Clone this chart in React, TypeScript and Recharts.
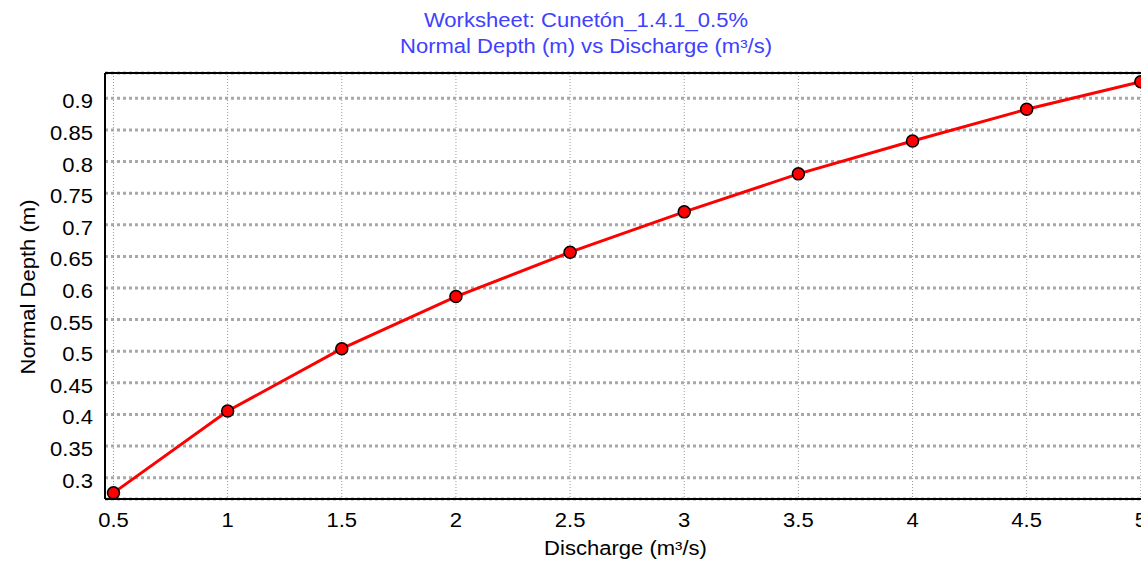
import React from "react";
import {
  LineChart,
  Line,
  XAxis,
  YAxis,
  CartesianGrid,
  ReferenceLine,
  Label,
} from "recharts";

// Rating curve: normal depth against discharge
const discharge = [0.5, 1, 1.5, 2, 2.5, 3, 3.5, 4, 4.5, 5];
const normalDepth = [0.276, 0.4055, 0.504, 0.5865, 0.6566, 0.7204, 0.7805, 0.8325, 0.8826, 0.9263];

const xTicks = [0.5, 1, 1.5, 2, 2.5, 3, 3.5, 4, 4.5, 5];
const yTicks = [0.3, 0.35, 0.4, 0.45, 0.5, 0.55, 0.6, 0.65, 0.7, 0.75, 0.8, 0.85, 0.9];

const titleLines = ["Worksheet: Cunetón_1.4.1_0.5%", "Normal Depth (m) vs Discharge (m³/s)"];
const xTitle = "Discharge (m³/s)";
const yTitle = "Normal Depth (m)";

const data = discharge.map((q, i) => ({ q, depth: normalDepth[i] }));

const FONT = "'Liberation Sans', Arial, sans-serif";
const FS = 19.5;
const SX = 1.13;

const XTick = (props: any) => {
  const { x, y, payload } = props;
  return (
    <g transform={`translate(${x},${y + 28})`}>
      <text transform={`scale(${SX},1)`} textAnchor="middle" fontFamily={FONT} fontSize={FS} fill="#000">
        {String(payload.value)}
      </text>
    </g>
  );
};

const YTick = (props: any) => {
  const { x, y, payload } = props;
  return (
    <g transform={`translate(${x - 12},${y + 10})`}>
      <text transform={`scale(${SX},1)`} textAnchor="end" fontFamily={FONT} fontSize={FS} fill="#000">
        {String(payload.value)}
      </text>
    </g>
  );
};

const XTitle = (props: any) => {
  const vb = props.viewBox || { x: 0, y: 0, width: 0 };
  return (
    <g transform={`translate(${vb.x + 520.5},${vb.y + 56})`}>
      <text transform={`scale(${SX},1)`} textAnchor="middle" fontFamily={FONT} fontSize={FS} fill="#000">
        {xTitle}
      </text>
    </g>
  );
};

const YTitle = (props: any) => {
  const vb = props.viewBox || { x: 0, y: 0, height: 0 };
  return (
    <g transform={`translate(35,${vb.y + vb.height / 2 + 1})`}>
      <text transform={`rotate(-90) scale(${SX},1)`} textAnchor="middle" fontFamily={FONT} fontSize={FS} fill="#000">
        {yTitle}
      </text>
    </g>
  );
};

export default function App() {
  return (
    <div
      style={{
        position: "absolute",
        left: 0,
        top: 0,
        width: 1141,
        height: 563,
        overflow: "hidden",
        background: "#fff",
      }}
    >
      <svg width={1141} height={64} style={{ position: "absolute", left: 0, top: 0 }}>
        {titleLines.map((t, i) => (
          <g key={i} transform={`translate(586,${27 + i * 26})`}>
            <text transform={`scale(${SX},1)`} textAnchor="middle" fontFamily={FONT} fontSize={FS} fill="#4040ff">
              {t}
            </text>
          </g>
        ))}
      </svg>
      <div style={{ position: "absolute", left: 0, top: 0 }}>
        <LineChart width={1200} height={563} data={data} margin={{ top: 73, right: 40, bottom: 0, left: 0 }}>
          <CartesianGrid horizontal={false} stroke="#9a9a9a" strokeWidth={1} strokeDasharray="1 2" />
          <CartesianGrid vertical={false} stroke="#a8a8a8" strokeWidth={3} strokeDasharray="3 3" />
          <XAxis
            dataKey="q"
            type="number"
            domain={[0.4628, 5.084]}
            ticks={xTicks}
            allowDataOverflow
            height={64}
            tickSize={0}
            tickMargin={0}
            tickLine={false}
            axisLine={{ stroke: "#000", strokeWidth: 2 }}
            tick={<XTick />}
          >
            <Label content={<XTitle />} />
          </XAxis>
          <YAxis
            type="number"
            domain={[0.2663, 0.94]}
            ticks={yTicks}
            allowDataOverflow
            width={105}
            tickSize={0}
            tickMargin={0}
            tickLine={false}
            axisLine={{ stroke: "#000", strokeWidth: 2 }}
            tick={<YTick />}
          >
            <Label content={<YTitle />} />
          </YAxis>
          <ReferenceLine y={0.94} stroke="#000" strokeWidth={2} />
          <Line
            type="linear"
            dataKey="depth"
            stroke="#ff0000"
            strokeWidth={3}
            dot={{ r: 6, fill: "#ff0000", stroke: "#000", strokeWidth: 1.5 }}
            isAnimationActive={false}
          />
        </LineChart>
      </div>
    </div>
  );
}
